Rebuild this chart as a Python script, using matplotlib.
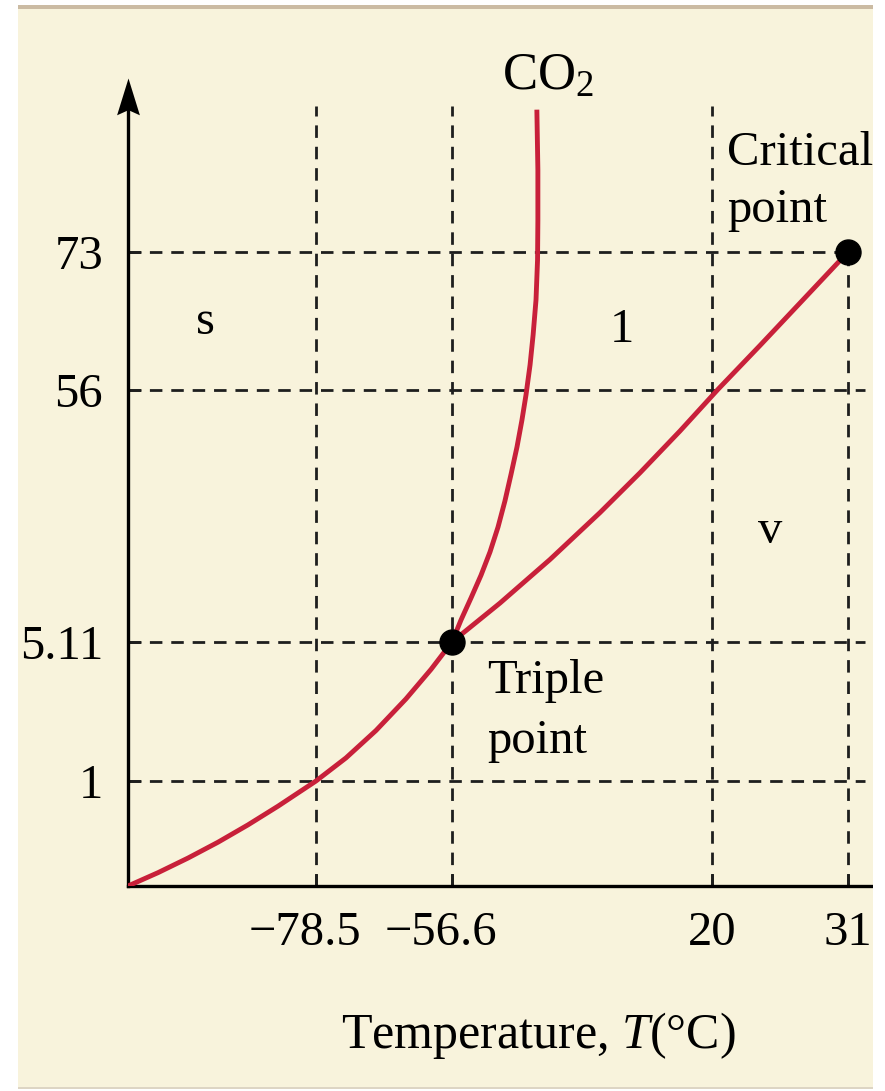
import numpy as np
import matplotlib.pyplot as plt
import matplotlib.transforms as mtransforms
from matplotlib.path import Path
from matplotlib.patches import Rectangle

plt.rcParams['font.family'] = 'Liberation Serif'
plt.rcParams['mathtext.fontset'] = 'custom'
plt.rcParams['mathtext.rm'] = 'Liberation Serif'
plt.rcParams['mathtext.it'] = 'Liberation Serif:italic'

# CO2 phase diagram (schematic, axes are not to scale)
temp_ticks = [-78.5, -56.6, 20, 31]
temp_labels = ['\u221278.5', '\u221256.6', '20', '31']
pres_ticks = [1, 5.11, 56, 73]
pres_labels = ['1', '5.11', '56', '73']

triple_point = (-56.6, 5.11)
critical_point = (31, 73)

# solid / vapour boundary
sub_T = [-110, -104.97, -99.95, -94.92, -89.9, -84.87, -78.5,
         -73.67, -68.84, -64.01, -59.98, -56.6]
sub_P = [0, 0.127, 0.266, 0.417, 0.582, 0.760, 1,
         1.683, 2.493, 3.428, 4.300, 5.11]
# solid / liquid boundary
melt_T = [-56.6, -53.95, -51.0, -48.05, -45.4, -43.05, -41.0, -39.2, -37.45,
          -36.0, -34.8, -33.6, -32.7, -31.85, -31.4, -31.3, -31.3, -31.6]
melt_P = [5.11, 9.55, 14.0, 18.6, 23.3, 28.3, 33.6, 39.0, 44.5,
          49.9, 55.0, 59.1, 62.8, 67.1, 72.0, 76.9, 83.1, 90.5]
# liquid / vapour boundary
vap_T = [-56.6, -42.46, -27.73, -13.0, -1.21, 10.57, 20.49, 23.88, 27.12, 31]
vap_P = [5.11, 12.97, 21.77, 31.24, 39.28, 47.72, 56.09, 61.48, 66.72, 73]

# uneven spacing of the schematic axes (pixels from the origin)
t_knots = [-110, -78.5, -56.6, 20, 31, 34]
t_space = [0, 188, 324, 584, 720, 745]
p_knots = [0, 1, 5.11, 56, 73, 103]
p_space = [0, 105, 244, 496, 634, 878]

W, H = 885, 1091
cream = '#f8f3dc'
red = '#c8203a'


def fx(x):
    return x / W


def fy(y):
    return 1 - y / H


fig = plt.figure(figsize=(W / 100, H / 100), dpi=100, facecolor='white')
fig.patches.append(Rectangle((fx(18), fy(1088)), fx(873) - fx(18), fy(8) - fy(1088),
                             transform=fig.transFigure, facecolor=cream,
                             edgecolor='none', zorder=-10))

ax = fig.add_axes([fx(128), fy(886), fx(873) - fx(128), fy(8) - fy(886)])
ax.patch.set_visible(False)
ax.set_xscale('function', functions=(lambda t: np.interp(t, t_knots, t_space),
                                     lambda s: np.interp(s, t_space, t_knots)))
ax.set_yscale('function', functions=(lambda p: np.interp(p, p_knots, p_space),
                                     lambda s: np.interp(s, p_space, p_knots)))
ax.set_xlim(t_knots[0], t_knots[-1])
ax.set_ylim(p_knots[0], p_knots[-1])

# dashed guide lines
dash = dict(color='#1e1e1e', lw=2.0, dashes=(4.5, 3.2))
for t in temp_ticks[:3]:
    ax.plot([t, t], [0, 91], **dash)
ax.plot([critical_point[0]] * 2, [0, critical_point[1]], **dash)
ax.plot([t_knots[0], critical_point[0]], [critical_point[1]] * 2, **dash)
for p in pres_ticks[:3]:
    ax.plot([t_knots[0], 33], [p, p], **dash)

# phase boundaries
for T, P in ((sub_T, sub_P), (melt_T, melt_P), (vap_T, vap_P)):
    ax.plot(T, P, color=red, lw=3.5, solid_capstyle='butt',
            solid_joinstyle='round', zorder=4)

ax.plot(*triple_point, 'o', color='black', ms=18, zorder=5)
ax.plot(*critical_point, 'o', color='black', ms=18, zorder=5, clip_on=False)

# axes with an arrow on the pressure axis
for side in ('top', 'right'):
    ax.spines[side].set_visible(False)
ax.spines['left'].set_linewidth(2.4)
ax.spines['bottom'].set_linewidth(2.4)
ax.spines['left'].set_bounds(0, 92)
head = Path([(0, 0), (-0.31, -1), (0, -0.86), (0.31, -1), (0, 0)],
            [Path.MOVETO, Path.LINETO, Path.LINETO, Path.LINETO, Path.CLOSEPOLY])
ax.plot(t_knots[0], 94.4, marker=head, ms=53, color='black', mew=0, clip_on=False)

ax.set_xticks(temp_ticks, temp_labels)
ax.set_yticks(pres_ticks, pres_labels)
ax.minorticks_off()
ax.tick_params(direction='in', length=9, width=1.8, colors='black', labelsize=35)
ax.tick_params(axis='x', pad=18)
ax.tick_params(axis='y', pad=18)
shift = mtransforms.ScaledTranslation(-8 / 72, 0, fig.dpi_scale_trans)
for lab, txt in zip(ax.get_xticklabels(), temp_labels):
    if txt.startswith('\u2212'):
        lab.set_transform(lab.get_transform() + shift)

fs = 35
fig.text(fx(548), fy(90), r'CO$_2$', ha='center', va='baseline', fontsize=38)
fig.text(fx(205), fy(334), 's', ha='center', va='baseline', fontsize=fs)
fig.text(fx(622), fy(342), '1', ha='center', va='baseline', fontsize=fs)
fig.text(fx(770), fy(543), 'v', ha='center', va='baseline', fontsize=fs)
fig.text(fx(727), fy(165), 'Critical', ha='left', va='baseline', fontsize=fs)
fig.text(fx(727), fy(222), 'point', ha='left', va='baseline', fontsize=fs)
fig.text(fx(487), fy(693), 'Triple', ha='left', va='baseline', fontsize=fs)
fig.text(fx(487), fy(753), 'point', ha='left', va='baseline', fontsize=fs)
fig.text(fx(538), fy(1048), r'Temperature, $\it{T}$(°C)', ha='center',
         va='baseline', fontsize=36)

# white margins around the cream panel, with its thin top and bottom rules
for x0, y0, x1, y1 in ((0, 0, 18, H), (873, 0, W, H), (0, 0, W, 5), (0, 1089, W, H)):
    fig.patches.append(Rectangle((fx(x0), fy(y1)), fx(x1) - fx(x0), fy(y0) - fy(y1),
                                 transform=fig.transFigure, facecolor='white',
                                 edgecolor='none', zorder=20))
fig.patches.append(Rectangle((fx(18), fy(9)), fx(873) - fx(18), fy(5) - fy(9),
                             transform=fig.transFigure, facecolor='#cbbba3',
                             edgecolor='none', zorder=21))
fig.patches.append(Rectangle((fx(18), fy(1089)), fx(873) - fx(18), fy(1087) - fy(1089),
                             transform=fig.transFigure, facecolor='#ddd5c4',
                             edgecolor='none', zorder=21))

fig.savefig('out.png', dpi=100, facecolor='white')
